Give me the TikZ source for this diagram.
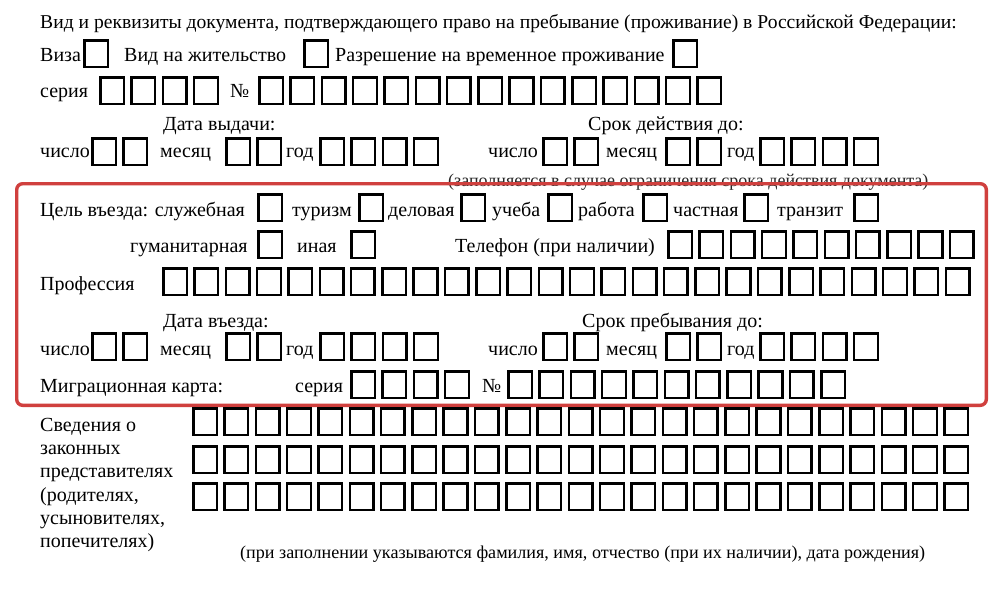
\documentclass[tikz,border=0pt]{standalone}
\usepackage{fontspec}
\setmainfont{Liberation Serif}
\definecolor{frame}{RGB}{208,64,62}
\newcommand\formcells[3]{%
  \foreach \k in {1,...,#3}{%
    \draw[cell] ({#1+1.3+(\k-1)*31.3},{#2+1.3}) rectangle ++(23.6,26.6);
  }}
\begin{document}
\begin{tikzpicture}[x=1pt,y=-1pt,
  cell/.style={draw=black,line width=2.5pt},
  txt/.style={anchor=base west,inner sep=0pt,font=\fontsize{20}{24}\selectfont},
  small/.style={anchor=base west,inner sep=0pt,font=\fontsize{18}{20}\selectfont,text=black!85},
  note/.style={anchor=base west,inner sep=0pt,font=\fontsize{18.1}{22}\selectfont}]
\useasboundingbox (0,0) rectangle (1000,598);
\fill[white] (0,0) rectangle (1000,598);
% line 1
\node[txt,font=\fontsize{19.6}{24}\selectfont] (t1) at (40,28) {Вид и реквизиты документа, подтверждающего право на пребывание (проживание) в Российской Федерации:};
% line 2
\node[txt] (viza) at (40,61) {Виза};
\formcells{83}{39}{1}
\node[txt] (vnzh) at (124,61) {Вид на жительство};
\formcells{303}{39}{1}
\node[txt] (rvp) at (335,61) {Разрешение на временное проживание};
\formcells{672}{39}{1}
% line 3
\node[txt] (ser1) at (40,97) {серия};
\formcells{99}{76}{4}
\node[txt] (num1) at (230,97) {№};
\formcells{258}{76}{15}
% line 4-5
\node[txt] (dv) at (163,130) {Дата выдачи:};
\node[txt] (sd) at (588,130) {Срок действия до:};
\node[txt] (ch1) at (40,157) {число};
\formcells{91}{137}{2}
\node[txt] (ms1) at (160,157) {месяц};
\formcells{225}{137}{2}
\node[txt] (gd1) at (286,157) {год};
\formcells{319}{137}{4}
\node[txt] (ch2) at (488,157) {число};
\formcells{542}{137}{2}
\node[txt] (ms2) at (606,157) {месяц};
\formcells{665}{137}{2}
\node[txt] (gd2) at (727,157) {год};
\formcells{759}{137}{4}
\node[small] (zap) at (448,186) {(заполняется в случае ограничения срока действия документа)};
% line 7
\node[txt] (cel) at (40,216) {Цель въезда: служебная};
\formcells{257}{193}{1}
\node[txt] (tur) at (292,216) {туризм};
\formcells{358}{193}{1}
\node[txt] (del) at (388,216) {деловая};
\formcells{460}{193}{1}
\node[txt] (uch) at (492,216) {учеба};
\formcells{547}{193}{1}
\node[txt] (rab) at (578,216) {работа};
\formcells{642}{193}{1}
\node[txt] (chs) at (673,216) {частная};
\formcells{743}{193}{1}
\node[txt] (trn) at (777,216) {транзит};
\formcells{853}{193}{1}
% line 8
\node[txt] (gum) at (130,252) {гуманитарная};
\formcells{257}{230}{1}
\node[txt] (ina) at (297,252) {иная};
\formcells{350}{230}{1}
\node[txt] (tel) at (455,252) {Телефон (при наличии)};
\formcells{667}{230}{10}
% line 9
\node[txt] (prof) at (40,290) {Профессия};
\formcells{162}{267}{26}
% line 10-11
\node[txt] (dvz) at (163,327) {Дата въезда:};
\node[txt] (spd) at (582,327) {Срок пребывания до:};
\node[txt] (ch3) at (40,355) {число};
\formcells{91}{332}{2}
\node[txt] (ms3) at (160,355) {месяц};
\formcells{225}{332}{2}
\node[txt] (gd3) at (286,355) {год};
\formcells{319}{332}{4}
\node[txt] (ch4) at (488,355) {число};
\formcells{542}{332}{2}
\node[txt] (ms4) at (606,355) {месяц};
\formcells{665}{332}{2}
\node[txt] (gd4) at (727,355) {год};
\formcells{759}{332}{4}
% line 12
\node[txt] (mig) at (40,392) {Миграционная карта:};
\node[txt] (ser2) at (295,392) {серия};
\formcells{350}{370}{4}
\node[txt] (num2) at (482,392) {№};
\formcells{507}{370}{11}
% red frame
\draw[frame,line width=3.4pt,rounded corners=6pt] (16.7,183.7) rectangle (986.3,405.3);
% lower block
\node[txt] (sv1) at (40,431) {Сведения о};
\node[txt] (sv2) at (40,454) {законных};
\node[txt] (sv3) at (40,477.5) {представителях};
\node[txt] (sv4) at (40,501) {(родителях,};
\node[txt] (sv5) at (40,524) {усыновителях,};
\node[txt] (sv6) at (40,547) {попечителях)};
\formcells{192}{407}{25}
\formcells{192}{445}{25}
\formcells{192}{482}{25}
\node[note] (pz) at (240,558) {(при заполнении указываются фамилия, имя, отчество (при их наличии), дата рождения)};
\end{tikzpicture}
\end{document}
